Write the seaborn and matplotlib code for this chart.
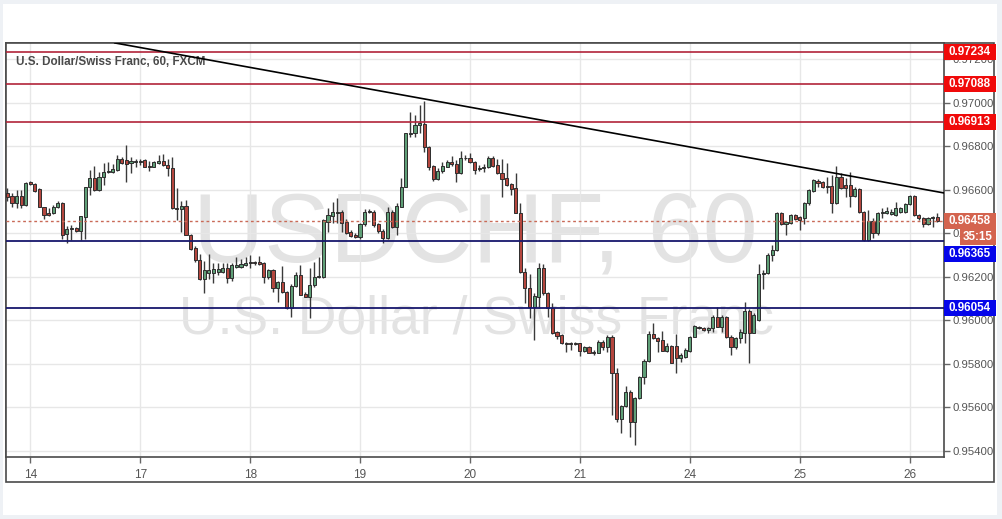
import matplotlib
matplotlib.use("Agg")
import matplotlib.pyplot as plt
import matplotlib.transforms as mtransforms
from matplotlib.patches import Rectangle
from matplotlib.ticker import FormatStrFormatter
import numpy as np
import pandas as pd
import seaborn as sns

# USD/CHF hourly candles (FXCM)
day_labels = ["14", "17", "18", "19", "20", "21", "24", "25", "26"]
bars_before_first_day = 5
bars_per_day = 24

opens = [
    0.96586, 0.96571, 0.96540, 0.96571, 0.96528, 0.96635, 0.96626, 0.96602, 0.96519, 0.96494, 0.96491, 0.96519,
    0.96540, 0.96396, 0.96419, 0.96424, 0.96408, 0.96476, 0.96611, 0.96652, 0.96599, 0.96657, 0.96680, 0.96683,
    0.96691, 0.96740, 0.96737, 0.96721, 0.96727, 0.96732, 0.96737, 0.96709, 0.96706, 0.96724, 0.96730, 0.96715,
    0.96698, 0.96517, 0.96513, 0.96525, 0.96393, 0.96330, 0.96277, 0.96188, 0.96215, 0.96215, 0.96221, 0.96221,
    0.96238, 0.96192, 0.96243, 0.96243, 0.96255, 0.96268, 0.96268, 0.96268, 0.96264, 0.96200, 0.96231, 0.96146,
    0.96177, 0.96131, 0.96054, 0.96157, 0.96208, 0.96120, 0.96108, 0.96162, 0.96197, 0.96197, 0.96453, 0.96479,
    0.96495, 0.96499, 0.96453, 0.96404, 0.96391, 0.96381, 0.96442, 0.96497, 0.96499, 0.96441, 0.96411, 0.96376,
    0.96499, 0.96427, 0.96522, 0.96614, 0.96856, 0.96859, 0.96897, 0.96902, 0.96798, 0.96709, 0.96648, 0.96687,
    0.96706, 0.96729, 0.96718, 0.96678, 0.96744, 0.96748, 0.96729, 0.96695, 0.96698, 0.96703, 0.96748, 0.96714,
    0.96675, 0.96652, 0.96626, 0.96606, 0.96494, 0.96223, 0.96146, 0.96062, 0.96108, 0.96238, 0.96126, 0.96054,
    0.95945, 0.95932, 0.95896, 0.95895, 0.95895, 0.95893, 0.95860, 0.95878, 0.95853, 0.95850, 0.95901, 0.95875,
    0.95924, 0.95758, 0.95548, 0.95605, 0.95671, 0.95533, 0.95640, 0.95737, 0.95814, 0.95935, 0.95919, 0.95909,
    0.95860, 0.95881, 0.95881, 0.95824, 0.95832, 0.95860, 0.95924, 0.95970, 0.95963, 0.95955, 0.95963, 0.96016,
    0.95970, 0.96013, 0.95921, 0.95875, 0.95916, 0.95942, 0.96044, 0.95942, 0.96001, 0.96212, 0.96215, 0.96300,
    0.96323, 0.96494, 0.96442, 0.96448, 0.96484, 0.96476, 0.96468, 0.96537, 0.96596, 0.96642, 0.96635, 0.96617,
    0.96617, 0.96537, 0.96660, 0.96622, 0.96622, 0.96571, 0.96602, 0.96499, 0.96369, 0.96457, 0.96399, 0.96494,
    0.96491, 0.96488, 0.96484, 0.96499, 0.96499, 0.96534, 0.96571, 0.96484, 0.96468, 0.96442, 0.96468, 0.96476,
]
highs = [
    0.96606, 0.96583, 0.96599, 0.96599, 0.96637, 0.96641, 0.96629, 0.96606, 0.96522, 0.96514, 0.96528, 0.96549,
    0.96545, 0.96433, 0.96436, 0.96430, 0.96479, 0.96614, 0.96691, 0.96709, 0.96683, 0.96721, 0.96729, 0.96718,
    0.96760, 0.96749, 0.96805, 0.96749, 0.96743, 0.96740, 0.96740, 0.96734, 0.96734, 0.96760, 0.96764, 0.96740,
    0.96752, 0.96606, 0.96549, 0.96553, 0.96396, 0.96341, 0.96303, 0.96273, 0.96304, 0.96261, 0.96261, 0.96261,
    0.96261, 0.96264, 0.96292, 0.96283, 0.96292, 0.96300, 0.96273, 0.96295, 0.96268, 0.96234, 0.96234, 0.96182,
    0.96249, 0.96136, 0.96166, 0.96223, 0.96254, 0.96131, 0.96238, 0.96269, 0.96292, 0.96467, 0.96514, 0.96545,
    0.96560, 0.96507, 0.96463, 0.96415, 0.96399, 0.96445, 0.96510, 0.96513, 0.96507, 0.96445, 0.96418, 0.96522,
    0.96507, 0.96540, 0.96652, 0.96862, 0.96959, 0.96943, 0.96989, 0.97009, 0.96801, 0.96714, 0.96698, 0.96729,
    0.96736, 0.96755, 0.96736, 0.96779, 0.96759, 0.96767, 0.96733, 0.96714, 0.96718, 0.96755, 0.96755, 0.96740,
    0.96740, 0.96724, 0.96632, 0.96678, 0.96540, 0.96238, 0.96212, 0.96123, 0.96261, 0.96258, 0.96131, 0.96077,
    0.95952, 0.95936, 0.95899, 0.95898, 0.95898, 0.95896, 0.95881, 0.95881, 0.95863, 0.95909, 0.95909, 0.95932,
    0.95932, 0.95778, 0.95610, 0.95697, 0.95679, 0.95645, 0.95743, 0.95820, 0.95952, 0.95988, 0.95924, 0.95952,
    0.95893, 0.95886, 0.95936, 0.95847, 0.95870, 0.95927, 0.95978, 0.95973, 0.95967, 0.95967, 0.96024, 0.96062,
    0.96024, 0.96019, 0.95932, 0.95924, 0.95958, 0.96085, 0.96050, 0.96031, 0.96258, 0.96231, 0.96310, 0.96346,
    0.96499, 0.96499, 0.96458, 0.96488, 0.96488, 0.96479, 0.96545, 0.96602, 0.96651, 0.96648, 0.96638, 0.96657,
    0.96668, 0.96709, 0.96678, 0.96652, 0.96683, 0.96611, 0.96606, 0.96504, 0.96507, 0.96468, 0.96499, 0.96514,
    0.96519, 0.96510, 0.96545, 0.96519, 0.96540, 0.96576, 0.96576, 0.96488, 0.96476, 0.96473, 0.96479, 0.96491,
]
lows = [
    0.96548, 0.96522, 0.96514, 0.96514, 0.96525, 0.96622, 0.96591, 0.96519, 0.96464, 0.96479, 0.96488, 0.96514,
    0.96372, 0.96353, 0.96369, 0.96405, 0.96369, 0.96375, 0.96576, 0.96595, 0.96595, 0.96622, 0.96678, 0.96678,
    0.96688, 0.96718, 0.96637, 0.96675, 0.96706, 0.96712, 0.96703, 0.96686, 0.96703, 0.96718, 0.96709, 0.96663,
    0.96510, 0.96461, 0.96407, 0.96390, 0.96323, 0.96269, 0.96185, 0.96123, 0.96188, 0.96169, 0.96208, 0.96215,
    0.96169, 0.96182, 0.96240, 0.96238, 0.96249, 0.96238, 0.96255, 0.96255, 0.96169, 0.96188, 0.96131, 0.96085,
    0.96126, 0.96050, 0.96016, 0.96154, 0.96114, 0.96105, 0.96008, 0.96154, 0.96192, 0.96192, 0.96407, 0.96448,
    0.96445, 0.96407, 0.96396, 0.96384, 0.96376, 0.96372, 0.96435, 0.96491, 0.96430, 0.96399, 0.96353, 0.96372,
    0.96422, 0.96392, 0.96519, 0.96611, 0.96844, 0.96844, 0.96859, 0.96775, 0.96691, 0.96641, 0.96645, 0.96675,
    0.96703, 0.96709, 0.96636, 0.96672, 0.96736, 0.96721, 0.96672, 0.96687, 0.96683, 0.96698, 0.96703, 0.96672,
    0.96568, 0.96617, 0.96576, 0.96491, 0.96218, 0.96077, 0.96008, 0.95909, 0.96054, 0.96116, 0.96016, 0.95936,
    0.95912, 0.95890, 0.95855, 0.95863, 0.95886, 0.95835, 0.95855, 0.95847, 0.95840, 0.95847, 0.95863, 0.95855,
    0.95564, 0.95533, 0.95483, 0.95602, 0.95461, 0.95426, 0.95636, 0.95706, 0.95809, 0.95912, 0.95855, 0.95857,
    0.95855, 0.95801, 0.95755, 0.95809, 0.95824, 0.95855, 0.95921, 0.95958, 0.95952, 0.95939, 0.95947, 0.95967,
    0.95947, 0.95916, 0.95840, 0.95866, 0.95893, 0.95896, 0.95801, 0.95939, 0.95998, 0.96142, 0.96212, 0.96274,
    0.96320, 0.96438, 0.96392, 0.96442, 0.96461, 0.96415, 0.96442, 0.96530, 0.96591, 0.96611, 0.96606, 0.96586,
    0.96491, 0.96534, 0.96602, 0.96568, 0.96519, 0.96568, 0.96494, 0.96366, 0.96366, 0.96376, 0.96392, 0.96468,
    0.96488, 0.96484, 0.96479, 0.96494, 0.96494, 0.96530, 0.96479, 0.96461, 0.96427, 0.96438, 0.96427, 0.96453,
]
closes = [
    0.96568, 0.96540, 0.96571, 0.96528, 0.96632, 0.96626, 0.96595, 0.96522, 0.96482, 0.96482, 0.96519, 0.96537,
    0.96391, 0.96421, 0.96425, 0.96408, 0.96479, 0.96611, 0.96652, 0.96599, 0.96660, 0.96681, 0.96686, 0.96694,
    0.96740, 0.96721, 0.96718, 0.96730, 0.96732, 0.96727, 0.96706, 0.96706, 0.96727, 0.96730, 0.96712, 0.96700,
    0.96514, 0.96513, 0.96525, 0.96393, 0.96329, 0.96277, 0.96188, 0.96231, 0.96231, 0.96235, 0.96235, 0.96240,
    0.96192, 0.96252, 0.96252, 0.96257, 0.96264, 0.96261, 0.96261, 0.96258, 0.96200, 0.96231, 0.96146, 0.96177,
    0.96131, 0.96054, 0.96157, 0.96208, 0.96117, 0.96108, 0.96162, 0.96197, 0.96203, 0.96461, 0.96484, 0.96499,
    0.96499, 0.96445, 0.96403, 0.96387, 0.96381, 0.96442, 0.96499, 0.96502, 0.96438, 0.96411, 0.96376, 0.96499,
    0.96430, 0.96525, 0.96614, 0.96859, 0.96862, 0.96897, 0.96905, 0.96798, 0.96706, 0.96648, 0.96687, 0.96709,
    0.96726, 0.96718, 0.96678, 0.96744, 0.96748, 0.96729, 0.96691, 0.96700, 0.96706, 0.96748, 0.96709, 0.96675,
    0.96648, 0.96621, 0.96602, 0.96494, 0.96223, 0.96146, 0.96062, 0.96111, 0.96238, 0.96123, 0.96054, 0.95942,
    0.95927, 0.95893, 0.95892, 0.95890, 0.95890, 0.95860, 0.95878, 0.95850, 0.95850, 0.95901, 0.95875, 0.95924,
    0.95758, 0.95548, 0.95605, 0.95671, 0.95533, 0.95640, 0.95737, 0.95814, 0.95935, 0.95916, 0.95906, 0.95860,
    0.95881, 0.95805, 0.95824, 0.95840, 0.95863, 0.95924, 0.95973, 0.95963, 0.95955, 0.95964, 0.96016, 0.95970,
    0.96013, 0.95921, 0.95875, 0.95916, 0.95947, 0.96044, 0.95942, 0.96024, 0.96212, 0.96218, 0.96300, 0.96323,
    0.96491, 0.96442, 0.96453, 0.96484, 0.96464, 0.96461, 0.96540, 0.96599, 0.96645, 0.96632, 0.96611, 0.96611,
    0.96537, 0.96657, 0.96606, 0.96606, 0.96571, 0.96602, 0.96499, 0.96369, 0.96457, 0.96399, 0.96494, 0.96497,
    0.96500, 0.96497, 0.96514, 0.96514, 0.96534, 0.96571, 0.96484, 0.96468, 0.96442, 0.96468, 0.96476, 0.96458,
]

resistance = [0.97234, 0.97088, 0.96913]
support = [0.96365, 0.96054]
last_price = 0.96458
countdown = "35:15"
# trend line drawn through the highs (bar index, price)
trend_bar = [23.4, 204.5]
trend_price = [0.97275, 0.96585]

header = "U.S. Dollar/Swiss Franc, 60, FXCM"
symbol = "USDCHF, 60"
description = "U.S. Dollar / Swiss Franc"

# colours
UP, DOWN = "#5f9f77", "#b4463e"
RED_LINE, BLUE_LINE = "#b2243a", "#17176c"
RED_TAG, BLUE_TAG, LAST_TAG = "#f00a0a", "#0505ea", "#d4644f"
GRID, TEXT = "#e7e7e7", "#555555"

sns.set_theme(style="white")
plt.rcParams["font.family"] = ["Liberation Sans", "DejaVu Sans"]

W, H = 1002, 519
fig = plt.figure(figsize=(W / 100, H / 100), dpi=100, facecolor="#eef1f5")
fig.patches.append(Rectangle((3 / W, 4 / H), 994 / W, 511 / H, transform=fig.transFigure,
                             facecolor="white", edgecolor="none", zorder=-10))
# outer frame (chart + price scale + time scale)
fig.patches.append(Rectangle((6 / W, (H - 482) / H), 988 / W, 439 / H, transform=fig.transFigure,
                             facecolor="none", edgecolor="#4a4a4a", linewidth=1.2, zorder=-5))

ax = fig.add_axes([6 / W, (H - 457) / H, 938 / W, 414 / H])

df = pd.DataFrame({"open": opens, "high": highs, "low": lows, "close": closes})
df["bar"] = np.arange(len(df))
df["up"] = df["close"] >= df["open"]
df["body_lo"] = df[["open", "close"]].min(axis=1)
df["body_h"] = (df["close"] - df["open"]).abs().clip(lower=0.00003)

ylim = (0.95371, 0.972745)
ax.set_xlim(-0.3, 204.5)
ax.set_ylim(*ylim)

# watermark
ax.text(0.5, 0.4734, symbol, transform=ax.transAxes, ha="center", va="baseline",
        fontsize=71, color="#e3e3e3", zorder=0.2)
ax.text(0.5016, 0.2995, description, transform=ax.transAxes, ha="center", va="baseline",
        fontsize=38.5, color="#e3e3e3", zorder=0.2)
ax.text(0.0107, 0.9469, header, transform=ax.transAxes, ha="left", va="baseline",
        fontsize=8.4, fontweight="bold", color="#4a4a4a", zorder=1)

# candles
ax.vlines(df["bar"], df["low"], df["high"], color="#3a3a3a", linewidth=1, zorder=3)
ax.bar(df["bar"], df["body_h"], bottom=df["body_lo"], width=0.68,
       color=np.where(df["up"], UP, DOWN), edgecolor="#2e2e2e", linewidth=0.7, zorder=4)

# levels
for p in resistance:
    ax.axhline(p, color=RED_LINE, linewidth=1.2, zorder=5)
for p in support:
    ax.axhline(p, color=BLUE_LINE, linewidth=1.3, zorder=5)
ax.axhline(last_price, color="#c96a57", linewidth=1, linestyle=(0, (2, 2)), zorder=5)
ax.plot(trend_bar, trend_price, color="black", linewidth=1.2, zorder=6)

# grid and axes
ax.set_axisbelow(True)
ax.set_yticks(np.arange(0.954, 0.97201, 0.002))
ax.yaxis.set_major_formatter(FormatStrFormatter("%.5f"))
ax.yaxis.tick_right()
ax.set_xticks(bars_before_first_day + np.arange(len(day_labels)) * bars_per_day, day_labels)
ax.grid(True, color=GRID, linewidth=1)
ax.tick_params(axis="y", which="both", left=False, right=True, labelleft=False, labelright=True,
               direction="out", length=4, width=1, color="#666666", pad=2, labelsize=8.2, labelcolor=TEXT)
ax.tick_params(axis="x", bottom=True, direction="out", length=4, width=1, color="#666666",
               pad=5, labelsize=8.5, labelcolor=TEXT)
for s in ax.spines.values():
    s.set_color("#4a4a4a")
    s.set_linewidth(1.2)

# price tags on the right scale, stacked so they do not overlap
tag_tf = mtransforms.blended_transform_factory(ax.transAxes, ax.transData)
ppx = (ylim[1] - ylim[0]) / 414.0
half = 8 * ppx
tags = [(p, f"{p:.5f}", RED_TAG, 0) for p in resistance]
tags += [(last_price, f"{last_price:.5f}", LAST_TAG, 0), (None, countdown, LAST_TAG, 16)]
tags += [(p, f"{p:.5f}", BLUE_TAG, 0) for p in support]
prev_bottom = ylim[1] + half
for value, label, col, inset in tags:
    centre = prev_bottom - half if value is None else min(value, prev_bottom - half - ppx)
    x0 = 1.0 + inset / 938
    x1 = 1.0 + 52 / 938
    ax.add_patch(Rectangle((x0, centre - half), x1 - x0, 2 * half, transform=tag_tf,
                           facecolor=col, edgecolor="none", clip_on=False, zorder=20))
    ax.text((x0 + x1) / 2, centre, label, transform=tag_tf, ha="center", va="center",
            color="white", fontsize=8.4, fontweight="bold", clip_on=False, zorder=21)
    prev_bottom = centre - half

fig.savefig("out.png", dpi=100, facecolor=fig.get_facecolor())
